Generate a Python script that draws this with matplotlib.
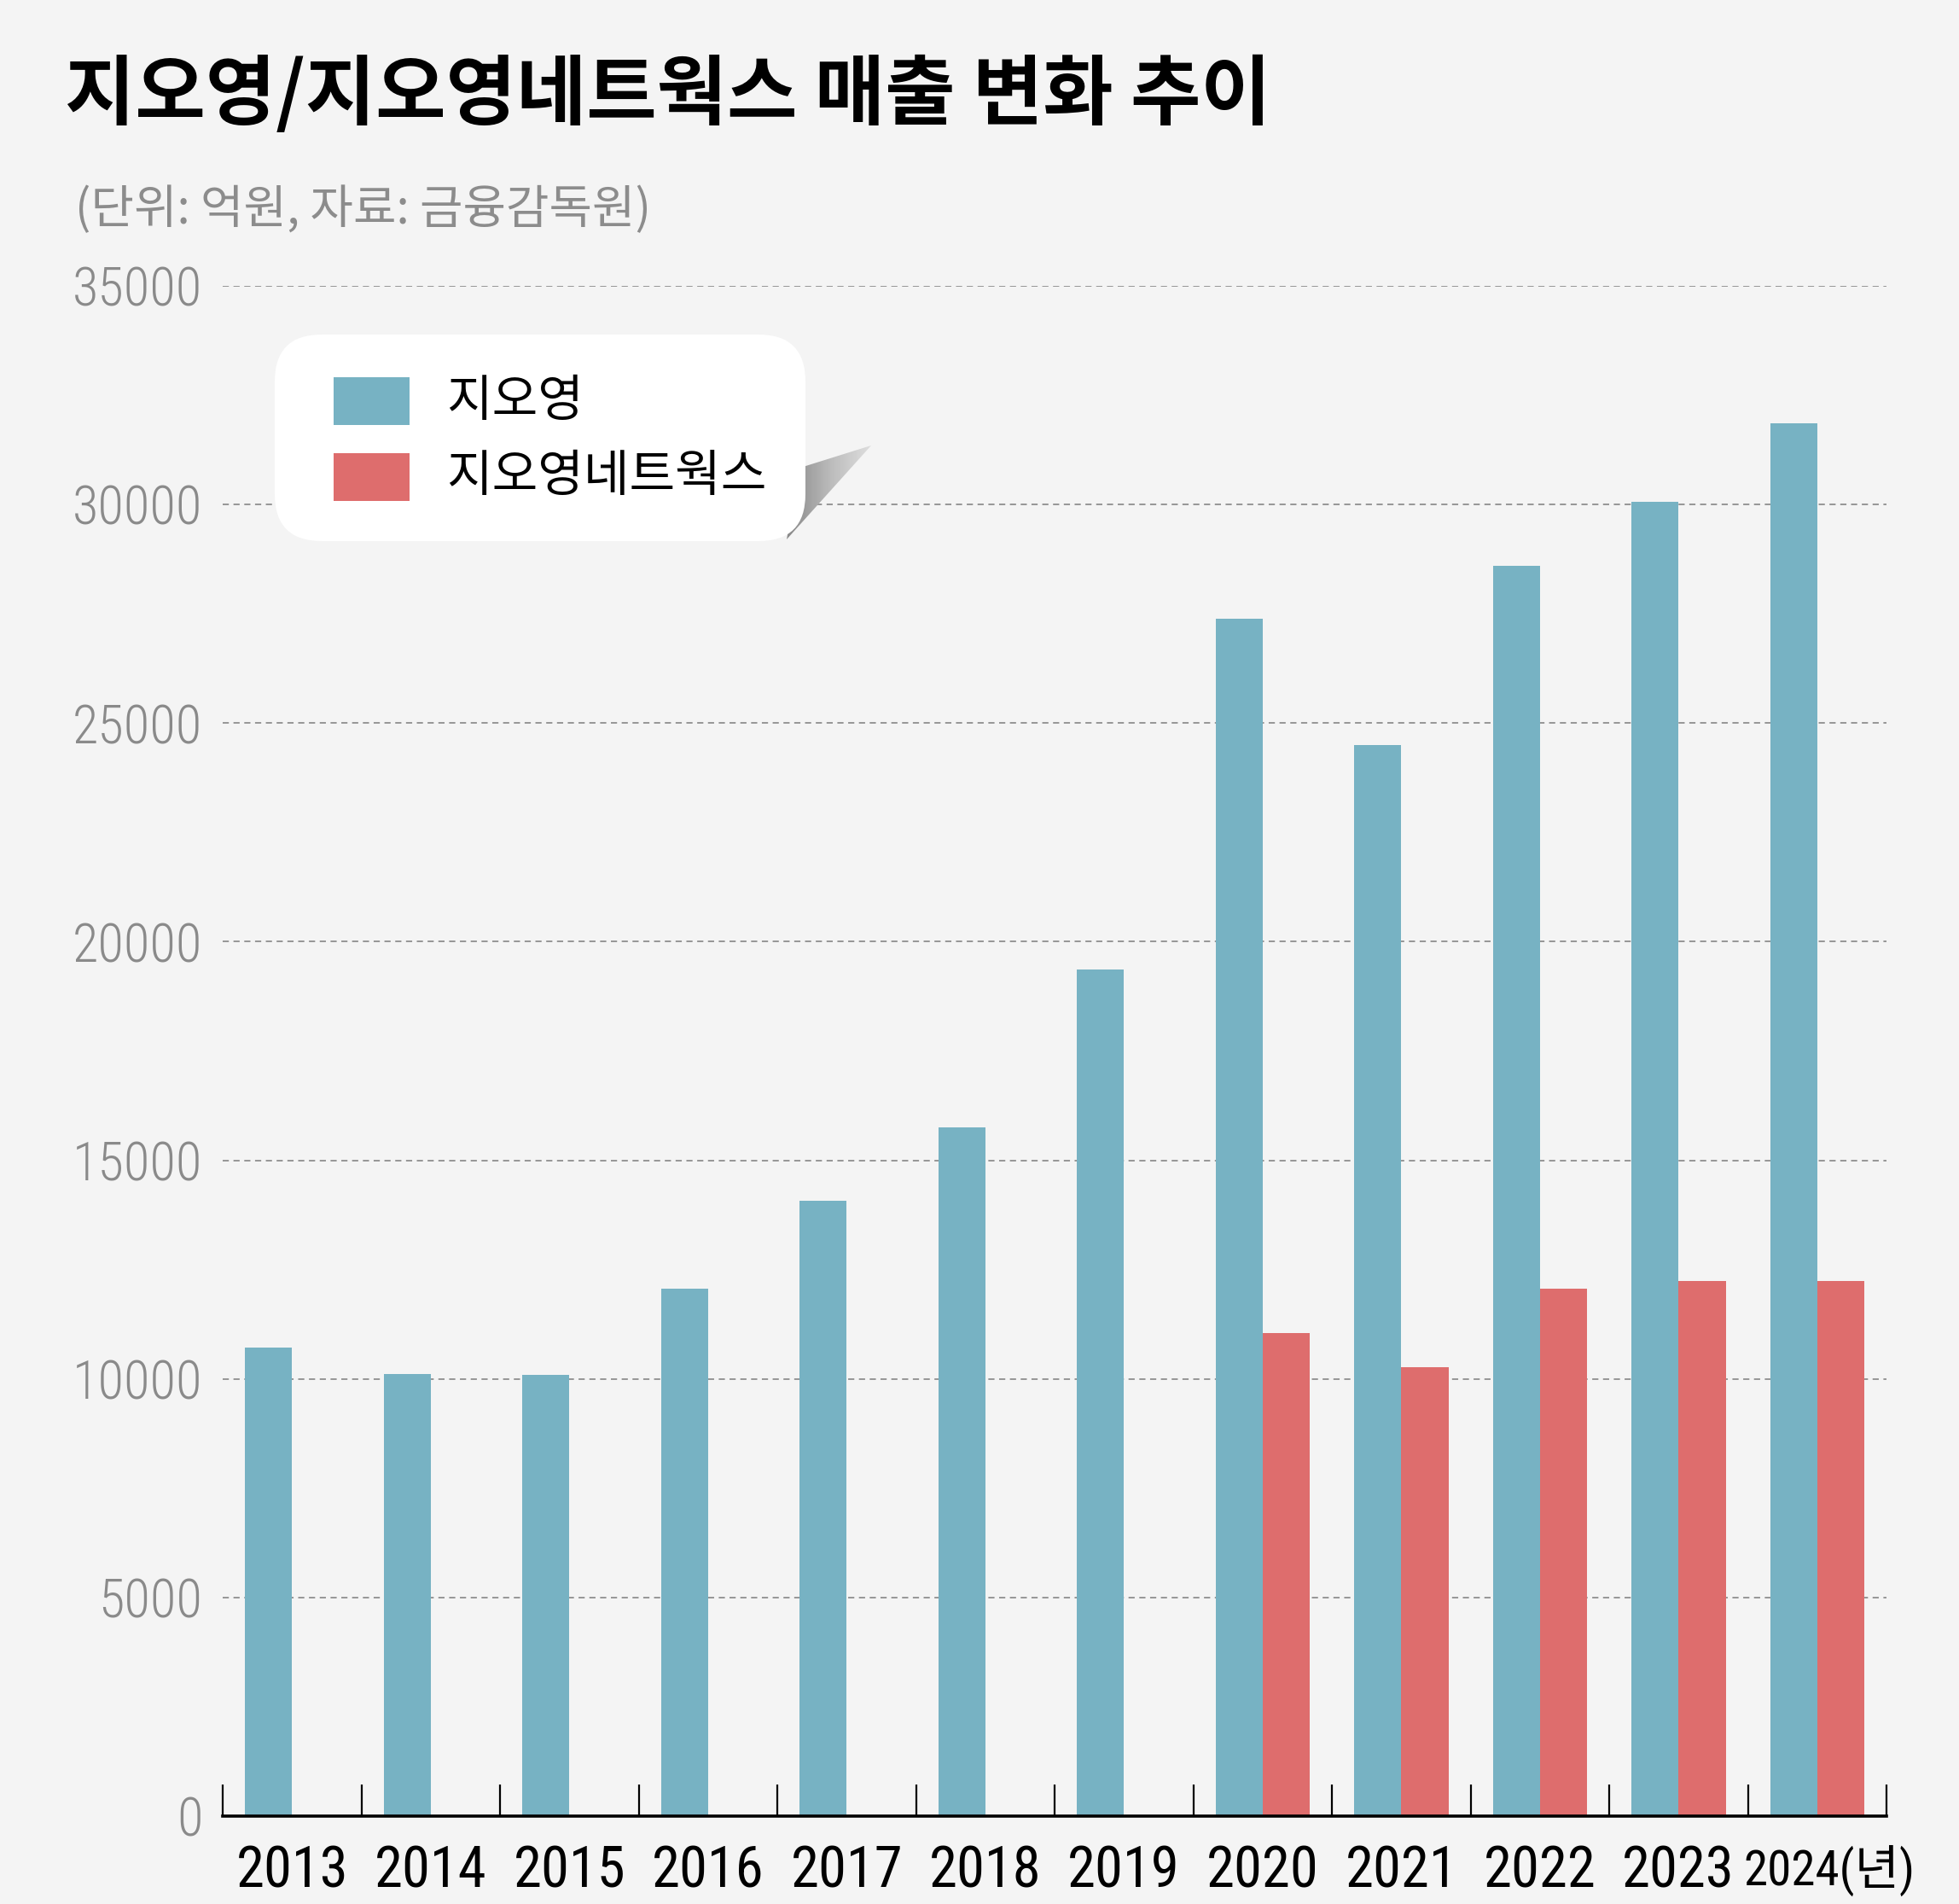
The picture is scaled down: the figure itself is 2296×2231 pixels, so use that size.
import numpy as np
import matplotlib
matplotlib.use("Agg")
from matplotlib import pyplot as plt
from matplotlib import font_manager
from matplotlib.patches import FancyBboxPatch, Rectangle, Polygon
from matplotlib.transforms import ScaledTranslation

# data (억원)
years = ['2013', '2014', '2015', '2016', '2017', '2018', '2019',
         '2020', '2021', '2022', '2023', '2024(년)']
geo = [10720, 10120, 10090, 12070, 14070, 15760, 19360,
       27380, 24500, 28600, 30060, 31850]
net = [0, 0, 0, 0, 0, 0, 0,
       11040, 10270, 12060, 12240, 12240]
yticks = [0, 5000, 10000, 15000, 20000, 25000, 30000, 35000]

names = {f.name for f in font_manager.fontManager.ttflist}
narrow = 'Liberation Sans'
for cand in ['Roboto Condensed', 'Archivo Narrow', 'PT Sans Narrow',
             'Liberation Sans Narrow', 'Encode Sans Condensed']:
    if cand in names:
        narrow = cand
        break
KR = 'Noto Sans CJK KR'

BLUE = '#77b2c3'
RED = '#de6d6d'
BG = '#f4f4f4'

W, H = 2296, 2231
fig = plt.figure(figsize=(W / 100, H / 100), dpi=100, facecolor=BG)
ax = fig.add_axes([261 / W, 1 - 2128 / H, (2211 - 261) / W, (2128 - 335) / H])
ax.set_facecolor(BG)

x = np.arange(len(years))
bw = 0.34
ax.bar(x - bw / 2, geo, bw, color=BLUE, zorder=3)
ax.bar(x + bw / 2, net, bw, color=RED, zorder=3)

ax.set_xlim(-0.5, len(years) - 0.5)
ax.set_ylim(0, 35000)
for s in ['top', 'right', 'left']:
    ax.spines[s].set_visible(False)
ax.spines['bottom'].set_linewidth(2.6)
ax.spines['bottom'].set_zorder(5)

ax.set_yticks(yticks)
ax.set_yticklabels([str(v) for v in yticks], family=narrow, fontweight='light',
                   fontsize=45, color='#8a8a8a')
ax.tick_params(axis='y', length=0, pad=17)
for v in yticks[1:]:
    ax.axhline(v, color='#8f8f8f', lw=1.3, ls=(0, (4, 3)), zorder=1)

ax.set_xticks(np.append(x - 0.5, len(years) - 0.5))
ax.set_xticklabels([])
ax.tick_params(axis='x', which='major', direction='in', length=27, width=1.6, color='black')
ax.set_xticks(x, minor=True)
ax.set_xticklabels(years, minor=True, family=[narrow, KR], fontsize=48, color='black')
ax.tick_params(axis='x', which='minor', length=0, pad=24)
last = ax.get_xticklabels(minor=True)[-1]
last.set_fontsize(41)
last.set_transform(last.get_transform() + ScaledTranslation(0.14, 0, fig.dpi_scale_trans))

# overlay in pixel coordinates for title and legend box
ov = fig.add_axes([0, 0, 1, 1], facecolor='none', zorder=10)
ov.set_xlim(0, W)
ov.set_ylim(H, 0)
ov.axis('off')

ov.text(76, 112, '지오영/지오영네트웍스 매출 변화 추이', family=KR, fontweight='bold',
        fontsize=64.5, color='black', ha='left', va='center')
ov.text(88, 246, '(단위: 억원, 자료: 금융감독원)', family=KR, fontsize=39.5,
        color='#8c8c8c', ha='left', va='center')

# page-curl shadow behind the legend box
grad = np.linspace(0, 1, 100).reshape(1, -1)
shadow = Polygon([(938, 548), (1021, 522), (922, 632)], closed=True,
                 facecolor='none', edgecolor='none')
ov.add_patch(shadow)
im = ov.imshow(grad, extent=(915, 1025, 640, 520), cmap='Greys_r',
               vmin=-1.2, vmax=1.6, aspect='auto', zorder=2)
im.set_clip_path(shadow)

box = FancyBboxPatch((322, 392), 622, 242, boxstyle='round,pad=0,rounding_size=55',
                     facecolor='white', edgecolor='none', zorder=3)
ov.add_patch(box)
ov.add_patch(Rectangle((391, 442), 89, 56, facecolor=BLUE, edgecolor='none', zorder=4))
ov.add_patch(Rectangle((391, 531), 89, 56, facecolor=RED, edgecolor='none', zorder=4))
ov.text(523, 470, '지오영', family=KR, fontsize=42, color='black',
        ha='left', va='center', zorder=5)
ov.text(523, 558, '지오영네트웍스', family=KR, fontsize=42, color='black',
        ha='left', va='center', zorder=5)
ov.set_xlim(0, W)
ov.set_ylim(H, 0)

fig.savefig('out.png', dpi=100, facecolor=BG)
